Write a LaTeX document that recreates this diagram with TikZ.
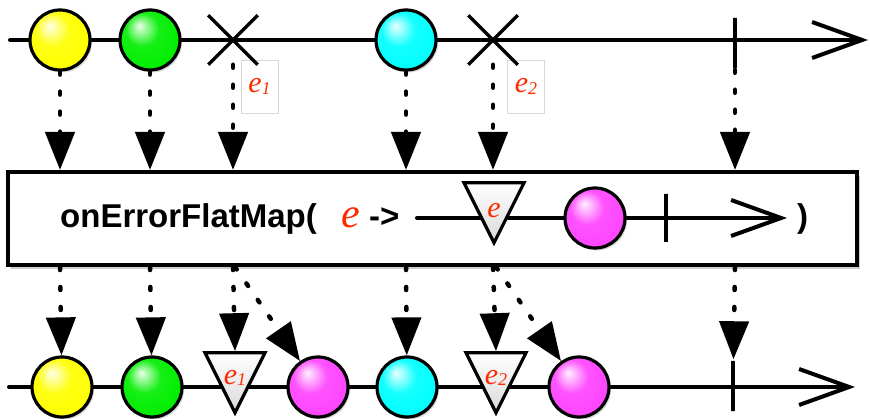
\documentclass[tikz,border=0pt]{standalone}
\usepackage{fontspec}
\setmainfont{Liberation Sans}
\newfontfamily\mbserif{Liberation Serif}
\usetikzlibrary{arrows.meta,positioning,shapes.geometric,shapes.misc,shadows}
\definecolor{MBYellow}{HTML}{FFFF00}
\definecolor{MBGreen}{HTML}{00EE00}
\definecolor{MBCyan}{HTML}{00FFFF}
\definecolor{MBMagenta}{HTML}{FF44FF}
\definecolor{MBRed}{HTML}{FF2A00}
\definecolor{MBFrame}{HTML}{D8D8D8}
\colorlet{mbcol}{MBYellow}
\pgfdeclareradialshading[mbcol]{mbsphere}{\pgfqpoint{-9bp}{12bp}}{%
  color(0bp)=(mbcol!8!white); color(14bp)=(mbcol!92!white);
  color(30bp)=(mbcol); color(42bp)=(mbcol!82!black);
  color(50bp)=(mbcol!60!black)}
\newcommand{\errtxt}[1]{e\raisebox{-0.05em}{\fontsize{18}{18}\selectfont #1}}
\newcommand{\trilow}[1]{\raisebox{-20pt}[0pt][0pt]{#1}}
\tikzset{
  mbline/.style={line width=4pt, line cap=round,
    -{Straight Barb[length=50pt, width=36pt]}},
  mbball/.style={circle, draw=black, line width=3.2pt, minimum size=60pt,
    inner sep=0pt, shading=mbsphere, mbcolor/.code={\colorlet{mbcol}{##1}},
    drop shadow={opacity=0.3, shadow xshift=2pt, shadow yshift=-2.5pt}},
  mberr/.style={cross out, draw=black, line width=3.5pt, minimum size=46pt,
    inner sep=0pt},
  mbdone/.style={rectangle, draw=black, line width=3.5pt, minimum width=0pt,
    minimum height=50pt, inner sep=0pt},
  mblabel/.style={rectangle, draw=MBFrame, line width=0.6pt, fill=white,
    minimum width=37pt, minimum height=53pt, inner sep=0pt, text=MBRed,
    font=\mbserif\itshape\fontsize{30}{30}\selectfont},
  mbtri/.style={isosceles triangle, isosceles triangle stretches,
    shape border rotate=270, minimum width=60pt, minimum height=60pt,
    draw=black, line width=3.2pt, top color=white, middle color=white,
    bottom color=black!15, inner sep=0pt, text=MBRed,
    font=\mbserif\itshape\fontsize{30}{30}\selectfont},
  mbbox/.style={rectangle, draw=black, line width=4pt, fill=white,
    minimum width=849pt, minimum height=93pt, inner sep=0pt,
    drop shadow={opacity=0.4, shadow xshift=3pt, shadow yshift=-4pt}},
  mbtext/.style={inner sep=0pt, font=\bfseries\fontsize{33}{33}\selectfont},
  mbevar/.style={inner sep=0pt, text=MBRed,
    font=\mbserif\itshape\fontsize{42}{42}\selectfont},
  mbflow/.style={line width=4.5pt, line cap=round, dash pattern=on 3pt off 17pt,
    -{Triangle[length=38pt, width=29pt]}}
}
\begin{document}
\begin{tikzpicture}[x=1pt, y=-1pt]
  \useasboundingbox (0,0) rectangle (870,419);

  % source sequence
  \coordinate (srcL) at (10,40);
  \coordinate (srcR) at (868,40);
  \draw[mbline] (srcL) -- (srcR);
  \node[mblabel] (lab1) at (259.5,86.5) {\errtxt{1}};
  \node[mblabel] (lab2) at (526,86.5) {\errtxt{2}};
  \node[mbball, mbcolor=MBYellow] (sy) at (60,40) {};
  \node[mbball, mbcolor=MBGreen] (sg) at (150,40) {};
  \node[mberr] (sx1) at (233,40) {};
  \node[mbball, mbcolor=MBCyan] (sc) at (406,40) {};
  \node[mberr] (sx2) at (493,40) {};
  \node[mbdone] (sd) at (735,43) {};

  % operator
  \node[mbbox] (op) at (432.5,218.5) {};
  \node[mbtext, anchor=base west] (fn) at (60,228) {onErrorFlatMap(};
  \node[mbevar, anchor=base west] (ev) at (341,228) {e};
  \node[mbtext, anchor=base west] (to) at (369,228) {->};
  \coordinate (inL) at (417,218);
  \coordinate (inR) at (787,218);
  \draw[mbline] (inL) -- (inR);
  \node[mbtri, anchor=apex] (ite) at (494,247) {\trilow{e}};
  \node[mbball, mbcolor=MBMagenta] (im) at (595,218) {};
  \node[mbdone, minimum height=48pt] (id) at (666,218) {};
  \node[mbtext, anchor=base west] (cl) at (797,228) {)};

  % result sequence
  \coordinate (resL) at (9,387);
  \coordinate (resR) at (855,387);
  \draw[mbline] (resL) -- (resR);
  \node[mbball, mbcolor=MBYellow] (ry) at (62,387) {};
  \node[mbball, mbcolor=MBGreen] (rg) at (152,387) {};
  \node[mbtri, anchor=apex] (rt1) at (235,417) {\trilow{\errtxt{1}}};
  \node[mbball, mbcolor=MBMagenta] (rm1) at (318,387) {};
  \node[mbball, mbcolor=MBCyan] (rc) at (407,387) {};
  \node[mbtri, anchor=apex] (rt2) at (496,417) {\trilow{\errtxt{2}}};
  \node[mbball, mbcolor=MBMagenta] (rm2) at (579,387) {};
  \node[mbdone] (rd) at (733,386) {};

  \foreach \n in {sy,sg,sx1,sc,sx2,sd}
    \draw[mbflow] (\n) -- (\n |- op.north);
  \draw[mbflow] (sy |- op.south) -- (ry);
  \draw[mbflow] (sg |- op.south) -- (rg);
  \draw[mbflow] (sx1 |- op.south) -- (rt1.north);
  \draw[mbflow] (op.south -| rt1) -- (rm1);
  \draw[mbflow] (sc |- op.south) -- (rc);
  \draw[mbflow] (sx2 |- op.south) -- (rt2.north);
  \draw[mbflow] (op.south -| rt2) -- (rm2);
  \draw[mbflow] (sd |- op.south) -- (rd);
\end{tikzpicture}
\end{document}
